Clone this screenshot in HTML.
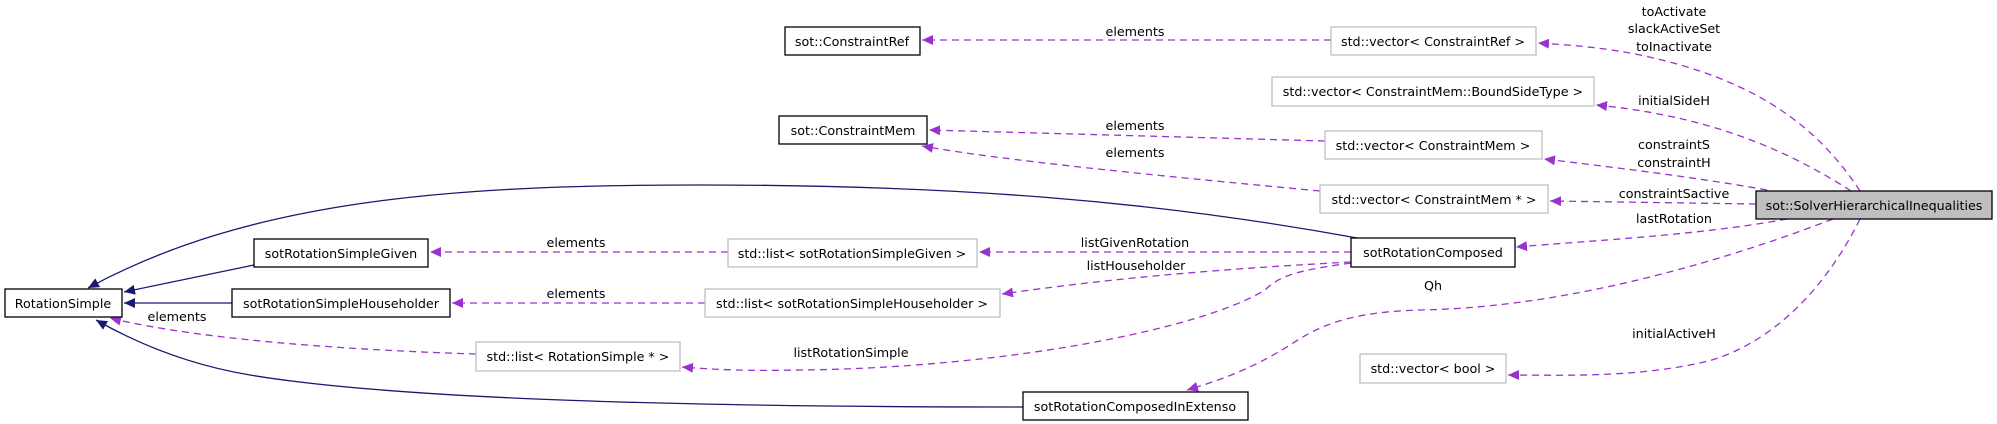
<!DOCTYPE html>
<html><head><meta charset="utf-8"><style>
html,body{margin:0;padding:0;background:#fff;}
svg{display:block;}
text{font-family:"DejaVu Sans","Liberation Sans",sans-serif;font-size:12.7px;fill:#000;}
</style></head><body>
<svg width="1997" height="424" viewBox="0 0 1997 424" xmlns="http://www.w3.org/2000/svg">
<defs>
<marker id="ap" markerUnits="userSpaceOnUse" markerWidth="12" markerHeight="10" refX="11" refY="5" orient="auto"><path d="M0,0 L11,5 L0,10 Z" fill="#9a32cd"/></marker>
<marker id="an" markerUnits="userSpaceOnUse" markerWidth="12" markerHeight="10" refX="11" refY="5" orient="auto"><path d="M0,0 L11,5 L0,10 Z" fill="#191970"/></marker>
</defs>
<g fill="none" stroke="#191970" stroke-width="1.3">
<path d="M1357,238 C1150,200 950,185 700,185 C450,185 250,200 88,288" marker-end="url(#an)"/>
<path d="M254,265 L124,292" marker-end="url(#an)"/>
<path d="M232,303 L124,303" marker-end="url(#an)"/>
<path d="M1023,407 C700,407 400,400 250,375 C190,365 140,345 96,320" marker-end="url(#an)"/>
</g>
<g fill="none" stroke="#9a32cd" stroke-width="1.3" stroke-dasharray="7,5">
<path d="M1331,40 L922,40" marker-end="url(#ap)"/>
<path d="M1325,141 L929,130" marker-end="url(#ap)"/>
<path d="M1320,191 C1150,175 1000,160 922,146" marker-end="url(#ap)"/>
<path d="M728,252 L430,252" marker-end="url(#ap)"/>
<path d="M705,303 L452,303" marker-end="url(#ap)"/>
<path d="M476,354 C350,350 200,340 110,318" marker-end="url(#ap)"/>
<path d="M1351,252 L979,252" marker-end="url(#ap)"/>
<path d="M1351,262 C1200,270 1100,280 1002,294" marker-end="url(#ap)"/>
<path d="M1351,263 C1300,270 1280,275 1265,290 C1200,330 1000,368 800,370 C750,371 720,370 682,367" marker-end="url(#ap)"/>
<path d="M1860,191 C1820,130 1760,80 1640,55 C1600,47 1570,45 1538,43" marker-end="url(#ap)"/>
<path d="M1851,191 C1780,145 1700,115 1596,105" marker-end="url(#ap)"/>
<path d="M1767,190 C1700,178 1620,168 1544,159" marker-end="url(#ap)"/>
<path d="M1756,204 L1550,201" marker-end="url(#ap)"/>
<path d="M1787,219 C1700,235 1600,240 1516,247" marker-end="url(#ap)"/>
<path d="M1833,219 C1700,270 1550,308 1420,310 C1350,312 1320,325 1290,345 C1250,370 1220,380 1187,390" marker-end="url(#ap)"/>
<path d="M1860,219 C1820,300 1760,350 1700,363 C1630,378 1560,375 1508,375" marker-end="url(#ap)"/>
</g>
<g stroke-width="1.3">
<rect x="5" y="289" width="117" height="28" fill="#fff" stroke="#000"/>
<rect x="254" y="239" width="174" height="28" fill="#fff" stroke="#000"/>
<rect x="232" y="289" width="218" height="28" fill="#fff" stroke="#000"/>
<rect x="476" y="342" width="204" height="29" fill="#fff" stroke="#bfbfbf"/>
<rect x="785" y="27" width="135" height="28" fill="#fff" stroke="#000"/>
<rect x="779" y="116" width="148" height="28" fill="#fff" stroke="#000"/>
<rect x="728" y="239" width="249" height="28" fill="#fff" stroke="#bfbfbf"/>
<rect x="705" y="289" width="295" height="28" fill="#fff" stroke="#bfbfbf"/>
<rect x="1023" y="392" width="225" height="28" fill="#fff" stroke="#000"/>
<rect x="1331" y="27" width="205" height="28" fill="#fff" stroke="#bfbfbf"/>
<rect x="1272" y="77" width="322" height="29" fill="#fff" stroke="#bfbfbf"/>
<rect x="1325" y="131" width="217" height="28" fill="#fff" stroke="#bfbfbf"/>
<rect x="1320" y="185" width="228" height="28" fill="#fff" stroke="#bfbfbf"/>
<rect x="1351" y="238" width="164" height="29" fill="#fff" stroke="#000"/>
<rect x="1756" y="191" width="236" height="28" fill="#bfbfbf" stroke="#000"/>
<rect x="1360" y="354" width="146" height="29" fill="#fff" stroke="#bfbfbf"/>
</g>
<g text-anchor="middle">
<text x="63" y="308">RotationSimple</text>
<text x="341" y="258">sotRotationSimpleGiven</text>
<text x="341" y="308">sotRotationSimpleHouseholder</text>
<text x="578" y="361">std::list&lt; RotationSimple * &gt;</text>
<text x="852" y="46">sot::ConstraintRef</text>
<text x="853" y="135">sot::ConstraintMem</text>
<text x="852" y="258">std::list&lt; sotRotationSimpleGiven &gt;</text>
<text x="852" y="308">std::list&lt; sotRotationSimpleHouseholder &gt;</text>
<text x="1135" y="411">sotRotationComposedInExtenso</text>
<text x="1433" y="46">std::vector&lt; ConstraintRef &gt;</text>
<text x="1433" y="96">std::vector&lt; ConstraintMem::BoundSideType &gt;</text>
<text x="1433" y="150">std::vector&lt; ConstraintMem &gt;</text>
<text x="1434" y="204">std::vector&lt; ConstraintMem * &gt;</text>
<text x="1433" y="257">sotRotationComposed</text>
<text x="1874" y="210">sot::SolverHierarchicalInequalities</text>
<text x="1433" y="373">std::vector&lt; bool &gt;</text>
<text x="1135" y="36">elements</text>
<text x="1135" y="130">elements</text>
<text x="1135" y="157">elements</text>
<text x="576" y="247">elements</text>
<text x="576" y="298">elements</text>
<text x="177" y="321">elements</text>
<text x="1135" y="247">listGivenRotation</text>
<text x="1136" y="270">listHouseholder</text>
<text x="851" y="357">listRotationSimple</text>
<text x="1674" y="16">toActivate</text>
<text x="1674" y="33">slackActiveSet</text>
<text x="1674" y="51">toInactivate</text>
<text x="1674" y="105">initialSideH</text>
<text x="1674" y="149">constraintS</text>
<text x="1674" y="167">constraintH</text>
<text x="1674" y="198">constraintSactive</text>
<text x="1674" y="223">lastRotation</text>
<text x="1433" y="290">Qh</text>
<text x="1674" y="338">initialActiveH</text>
</g>
</svg>
</body></html>
